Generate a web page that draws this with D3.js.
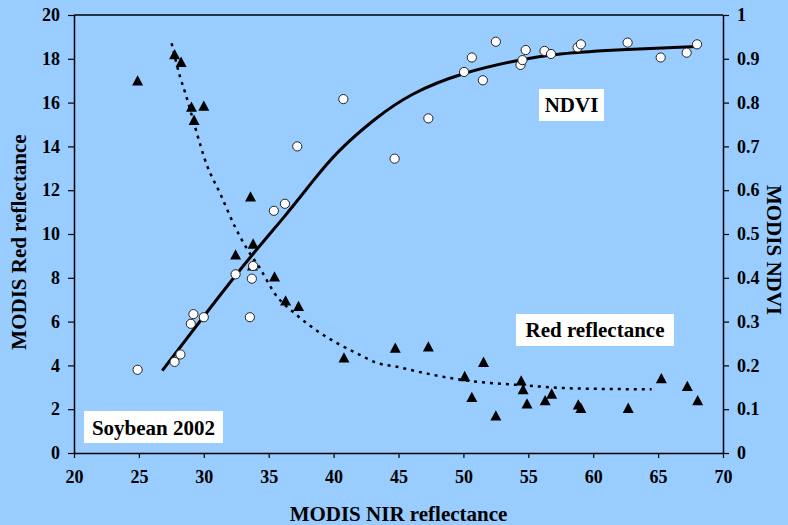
<!DOCTYPE html>
<html>
<head>
<meta charset="utf-8">
<script src="https://cdn.jsdelivr.net/npm/d3@7"></script>
<style>
  html, body { margin: 0; padding: 0; background: #99CCFF; }
  svg { display: block; }
  text { font-family: "Liberation Serif", "Times New Roman", serif; font-weight: bold; fill: #000; }
</style>
</head>
<body>
<svg id="chart" width="788" height="525"></svg>
<script>
// ---- data ----
const xTicks = [20, 25, 30, 35, 40, 45, 50, 55, 60, 65, 70];
const yTicks = [0, 2, 4, 6, 8, 10, 12, 14, 16, 18, 20];
const y2Ticks = [0, 0.1, 0.2, 0.3, 0.4, 0.5, 0.6, 0.7, 0.8, 0.9, 1];

const redNir = [24.9, 27.75, 28.25, 29.05, 29.25, 30.0, 32.45, 33.6, 33.8, 33.75, 35.45, 36.3, 37.3, 40.8, 44.75, 47.3, 50.1, 50.65, 51.55, 52.5, 54.45, 54.6, 54.9, 56.3, 56.8, 58.85, 59.05, 62.7, 65.25, 67.25, 68.05];
const red = [17.0, 18.2, 17.85, 15.8, 15.2, 15.85, 9.05, 11.7, 9.55, 8.55, 8.05, 6.95, 6.7, 4.35, 4.8, 4.85, 3.5, 2.55, 4.15, 1.7, 3.3, 2.9, 2.25, 2.4, 2.7, 2.2, 2.05, 2.05, 3.4, 3.05, 2.4];

const ndviNir = [24.9, 27.75, 28.2, 29.0, 29.2, 30.0, 32.45, 33.55, 33.7, 33.8, 35.4, 36.25, 37.2, 40.75, 44.7, 47.3, 50.05, 50.65, 51.5, 52.5, 54.4, 54.55, 54.8, 56.25, 56.75, 58.8, 59.05, 62.65, 65.2, 67.2, 68.0];
const ndvi = [0.19, 0.208, 0.225, 0.295, 0.317, 0.31, 0.408, 0.31, 0.398, 0.427, 0.553, 0.569, 0.70, 0.808, 0.672, 0.764, 0.870, 0.903, 0.851, 0.939, 0.886, 0.897, 0.92, 0.918, 0.911, 0.926, 0.933, 0.937, 0.903, 0.914, 0.933];

const ndviFitNir = [26.8, 29.96, 33.56, 36.45, 38.45, 40.24, 43.19, 45.89, 50.07, 54.23, 57.0, 62.66, 68.0];
const ndviFit = [0.188, 0.311, 0.448, 0.547, 0.623, 0.688, 0.764, 0.821, 0.870, 0.897, 0.912, 0.922, 0.928];

const redFitNir = [27.52, 28.17, 28.6, 29.32, 30.2, 31.25, 32.4, 33.3, 34.33, 35.49, 37.16, 38.82, 40.37, 41.9, 43.3, 44.86, 47.0, 50.0, 54.4, 59.0, 64.5];
const redFit = [18.71, 17.18, 16.39, 14.9, 13.2, 11.86, 10.33, 9.35, 8.43, 7.26, 6.3, 5.54, 4.98, 4.52, 4.12, 3.94, 3.65, 3.33, 3.1, 2.94, 2.91];

const xTitle = "MODIS NIR reflectance";
const yTitle = "MODIS Red reflectance";
const y2Title = "MODIS NDVI";
const labels = { ndvi: "NDVI", red: "Red reflectance", crop: "Soybean 2002" };

// ---- layout ----
const svg = d3.select("#chart");
const L = 74, R = 723, T = 15, B = 453;
const x = d3.scaleLinear().domain([20, 70]).range([L, R]);
const y = d3.scaleLinear().domain([0, 20]).range([B, T]);
const y2 = d3.scaleLinear().domain([0, 1]).range([B, T]);

svg.append("rect").attr("width", 788).attr("height", 525).attr("fill", "#99CCFF");

// top frame line
svg.append("line").attr("x1", L).attr("x2", R).attr("y1", T).attr("y2", T)
  .attr("stroke", "#000").attr("stroke-width", 1.5);

function styleAxis(g) {
  g.select(".domain").attr("stroke", "#000").attr("stroke-width", 1.5);
  g.selectAll(".tick line").attr("stroke", "#000").attr("stroke-width", 1.2);
  g.selectAll(".tick text").attr("font-size", 18).attr("font-family", "Liberation Serif").attr("font-weight", "bold").attr("fill", "#000");
}

svg.append("g").attr("transform", `translate(0,${B})`)
  .call(d3.axisBottom(x).tickValues(xTicks).tickSize(5).tickSizeOuter(0).tickPadding(12).tickFormat(d3.format("d")))
  .call(styleAxis);

svg.append("g").attr("transform", `translate(${L},0)`)
  .call(d3.axisLeft(y).tickValues(yTicks).tickSize(6).tickSizeOuter(0).tickPadding(8).tickFormat(d3.format("d")))
  .call(styleAxis);

svg.append("g").attr("transform", `translate(${R},0)`)
  .call(d3.axisRight(y2).tickValues(y2Ticks).tickSize(6).tickSizeOuter(0).tickPadding(8).tickFormat(d => d === 0 || d === 1 ? String(d) : d3.format(".1f")(d)))
  .call(styleAxis);

// titles
svg.append("text").attr("x", (L + R) / 2).attr("y", 521).attr("text-anchor", "middle")
  .attr("font-size", 21).text(xTitle);
svg.append("text").attr("transform", `translate(26,${(T + B) / 2 + 8}) rotate(-90)`).attr("text-anchor", "middle")
  .attr("font-size", 21).text(yTitle);
svg.append("text").attr("transform", `translate(767,${(T + B) / 2 + 16}) rotate(90)`).attr("text-anchor", "middle")
  .attr("font-size", 21).text(y2Title);

// fitted curves
const redLine = d3.line().x(d => x(d[0])).y(d => y(d[1])).curve(d3.curveMonotoneX);
svg.append("path").datum(redFitNir.map((v, i) => [v, redFit[i]]))
  .attr("d", redLine).attr("fill", "none").attr("stroke", "#000")
  .attr("stroke-width", 2.5).attr("stroke-dasharray", "3,5");

const ndviLine = d3.line().x(d => x(d[0])).y(d => y2(d[1])).curve(d3.curveBasis);
svg.append("path").datum(ndviFitNir.map((v, i) => [v, ndviFit[i]]))
  .attr("d", ndviLine).attr("fill", "none").attr("stroke", "#000").attr("stroke-width", 3);

// red triangles
const tri = "M0,-5.5L5.5,4.8L-5.5,4.8Z";
svg.append("g").selectAll("path").data(redNir.map((v, i) => [v, red[i]])).join("path")
  .attr("d", tri).attr("transform", d => `translate(${x(d[0])},${y(d[1])})`)
  .attr("fill", "#000");

// ndvi circles
svg.append("g").selectAll("circle").data(ndviNir.map((v, i) => [v, ndvi[i]])).join("circle")
  .attr("cx", d => x(d[0])).attr("cy", d => y2(d[1])).attr("r", 4.6)
  .attr("fill", "#fff").attr("stroke", "#222").attr("stroke-width", 1);

// labels in white boxes
function boxLabel(text, bx, by, bw, bh, tx, ty) {
  svg.append("rect").attr("x", bx).attr("y", by).attr("width", bw).attr("height", bh).attr("fill", "#fff");
  svg.append("text").attr("x", tx).attr("y", ty).attr("text-anchor", "middle").attr("font-size", 21).text(text);
}
boxLabel(labels.ndvi, 539, 89, 65, 32, 571.5, 112);
boxLabel(labels.red, 516, 314, 158, 32, 595, 337);
boxLabel(labels.crop, 84, 411, 139, 32, 153.5, 435);
</script>
</body>
</html>
